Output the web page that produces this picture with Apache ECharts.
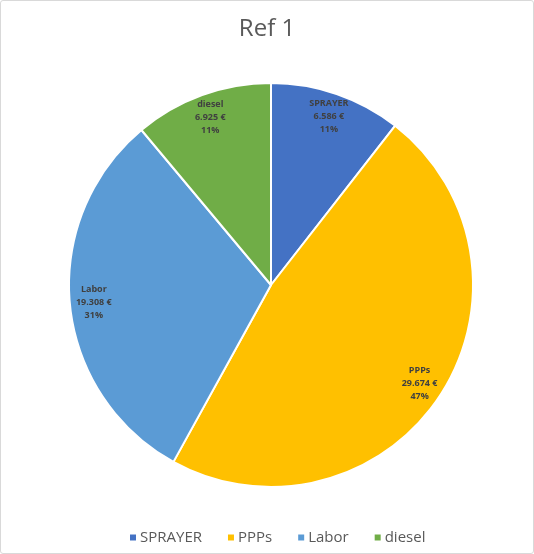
<!DOCTYPE html>
<html><head><meta charset="utf-8">
<script src="https://cdn.jsdelivr.net/npm/echarts@6/dist/echarts.min.js"></script>
<style>html,body{margin:0;padding:0;background:#fff}#c{position:absolute;left:0;top:0;width:532px;height:552px;border:1px solid #d9d9d9;border-radius:3px}</style>
</head><body><div id="c"></div>
<script>
const categories = ['SPRAYER','PPPs','Labor','diesel'];
const values = [6586, 29674, 19308, 6925];
const valueLabels = ['6.586 €','29.674 €','19.308 €','6.925 €'];
const percentLabels = ['11%','47%','31%','11%'];
const colors = ['#4472C4','#FFC000','#5B9BD5','#70AD47'];

const chart = echarts.init(document.getElementById('c'));
const data = categories.map((n,i)=>({name:n,value:values[i],itemStyle:{color:colors[i]}}));
chart.setOption({
  animation:false,
  title:{text:'Ref 1',left:'center',top:11,textStyle:{fontFamily:'Open Sans, Calibri, sans-serif',fontSize:24,fontWeight:'normal',color:'#595959'}},
  legend:{bottom:3,left:122,itemWidth:8,itemHeight:8,itemGap:24,icon:'rect',
    textStyle:{fontFamily:'Open Sans, sans-serif',fontSize:15,color:'#595959',padding:[0,0,0,-2]},data:categories},
  series:[
    {type:'pie',center:[270,284],radius:[0,202],startAngle:90,clockwise:true,
     itemStyle:{borderColor:'#fff',borderWidth:2},label:{show:false},labelLine:{show:false},
     emphasis:{disabled:true},data:data},
    {type:'pie',center:[270,284],radius:[148,202],startAngle:90,clockwise:true,silent:true,
     itemStyle:{color:'rgba(0,0,0,0)',borderWidth:0},labelLine:{show:false},
     label:{show:true,position:'inside',fontFamily:'Open Sans, sans-serif',fontSize:9,fontWeight:'bold',color:'#404040',lineHeight:13,
       formatter:p=>categories[p.dataIndex]+'\n'+valueLabels[p.dataIndex]+'\n'+percentLabels[p.dataIndex]},
     emphasis:{disabled:true},data:data.map(d=>({name:d.name,value:d.value}))}
  ]
});
</script></body></html>
